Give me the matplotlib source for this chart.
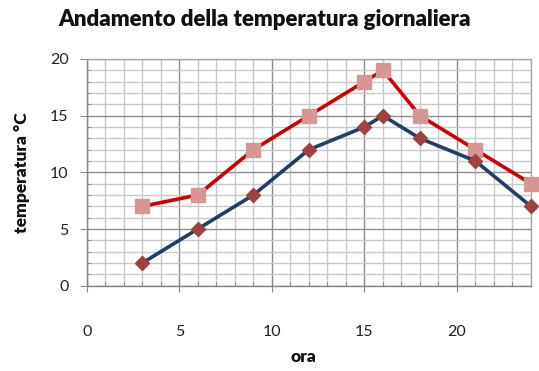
import matplotlib
matplotlib.use("Agg")
import matplotlib.pyplot as plt
from matplotlib.ticker import MultipleLocator

ore = [3, 6, 9, 12, 15, 16, 18, 21, 24]
temp_max = [7, 8, 12, 15, 18, 19, 15, 12, 9]
temp_min = [2, 5, 8, 12, 14, 15, 13, 11, 7]
x_ticks = [0, 5, 10, 15, 20]
y_ticks = [0, 5, 10, 15, 20]

plt.rcParams['font.family'] = ['Lato', 'DejaVu Sans']

fig = plt.figure(figsize=(5.39, 3.71), dpi=100)
W, H = 539, 371
ax = fig.add_axes([86.7 / W, 1 - 285.7 / H, (531 - 86.7) / W, (285.7 - 59) / H])

ax.set_xlim(0, 24)
ax.set_ylim(0, 20)
ax.xaxis.set_major_locator(MultipleLocator(5))
ax.xaxis.set_minor_locator(MultipleLocator(1))
ax.yaxis.set_major_locator(MultipleLocator(5))
ax.yaxis.set_minor_locator(MultipleLocator(1))
ax.set_xticks(x_ticks)
ax.set_yticks(y_ticks)

ax.grid(which='minor', color='#c8c8c8', linewidth=1.0)
ax.grid(which='major', color='#8c8c8c', linewidth=1.0)
ax.set_axisbelow(True)

for s in ax.spines.values():
    s.set_color('#a6a6a6')
    s.set_linewidth(1.0)
ax.spines['left'].set_color('#868686')
ax.spines['bottom'].set_color('#868686')

ax.plot(ore, temp_max, color='#d00000', linewidth=2.6, marker='s', markersize=10,
        markerfacecolor='#d99594', markeredgecolor='#d99594', zorder=3, clip_on=False)
ax.plot(ore, temp_min, color='#1f3f66', linewidth=2.6, marker='D', markersize=7,
        markerfacecolor='#a0403f', markeredgecolor='#a0403f', zorder=4, clip_on=False)

ax.tick_params(axis='x', which='major', direction='inout', length=8, color='#868686',
               pad=24, labelsize=11.5, labelcolor='#222222')
ax.tick_params(axis='x', which='minor', direction='in', length=3, color='#868686')
ax.tick_params(axis='y', which='major', direction='out', length=5, color='#868686',
               pad=8, labelsize=11.5, labelcolor='#222222')
ax.tick_params(axis='y', which='minor', direction='in', length=3, color='#868686')

fig.text(265 / W, 1 - 19 / H, 'Andamento della temperatura giornaliera',
         ha='center', va='center', fontsize=16, fontweight='heavy', color='#111111')
fig.text(303 / W, 1 - 357 / H, 'ora', ha='center', va='center',
         fontsize=12.5, fontweight='heavy', color='#111111')
fig.text(22 / W, 1 - 173 / H, 'temperatura °C', ha='center', va='center',
         rotation=90, fontsize=12.5, fontweight='heavy', color='#111111')

fig.savefig('out.png', dpi=100)
